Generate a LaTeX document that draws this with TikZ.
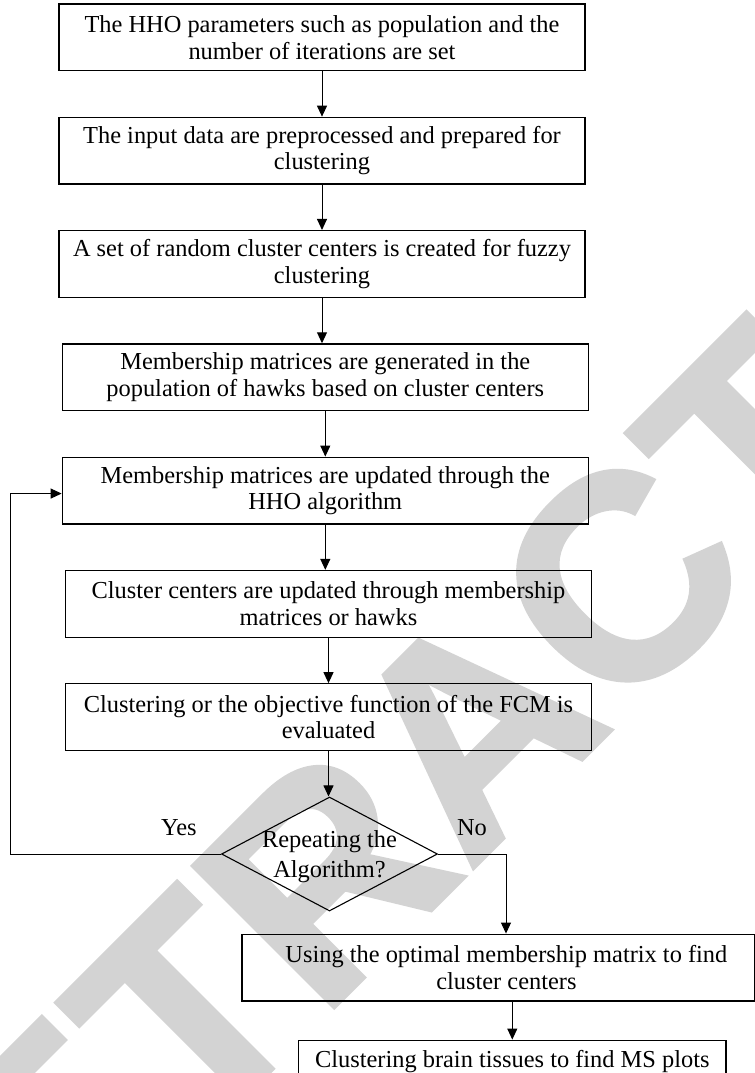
\documentclass[tikz,border=0pt]{standalone}
\usepackage{fontspec}
\setmainfont{Liberation Serif}
\newfontfamily\stampfont[FakeBold=1.5]{Liberation Sans Bold}
\usetikzlibrary{arrows.meta, shapes.geometric, positioning}
\definecolor{stampgray}{HTML}{D3D3D3}

\begin{document}
\begin{tikzpicture}[
  x=0.5pt, y=-0.5pt,
  node distance=22.65pt,
  font=\fontsize{12.2}{13.35}\selectfont,
  block/.style={rectangle, draw=black, line width=0.65pt,
                minimum width=263pt, minimum height=33.35pt,
                align=center, inner sep=2pt},
  decision/.style={diamond, draw=black, line width=0.55pt, aspect=1.9,
                minimum width=108pt, minimum height=57pt, inner sep=0pt},
  arrow/.style={-{Triangle[length=5.5pt,width=5pt]}, line width=0.5pt},
]
  \useasboundingbox (0,0) rectangle (755,1073);
  % watermark behind everything
  \node[rotate=45, text=stampgray, inner sep=0pt,
        font=\stampfont\fontsize{145}{145}\selectfont] (stamp) at (472,728) {RETRACTED};

  \node[block] (b1) at (322,37.35) {The HHO parameters such as population and the\\number of iterations are set};
  \node[block, below=of b1] (b2) {The input data are preprocessed and prepared for\\clustering};
  \node[block, below=of b2] (b3) {A set of random cluster centers is created for fuzzy\\clustering};
  \node[block, below=of b3, xshift=1.65pt] (b4) {Membership matrices are generated in the\\population of hawks based on cluster centers};
  \node[block, below=of b4] (b5) {Membership matrices are updated through the\\HHO algorithm};
  \node[block, below=of b5, xshift=1.6pt] (b6) {Cluster centers are updated through membership\\matrices or hawks};
  \node[block, below=of b6] (b7) {Clustering or the objective function of the FCM is\\evaluated};
  \node[decision, below=of b7, xshift=0.5pt,
        label={[align=center, yshift=-1.25pt]center:Repeating the\\[1.5pt]Algorithm?}] (dec) {};
  \node[block, below=11pt of dec, xshift=84.45pt, minimum width=256.5pt] (b8) {\hspace*{8pt}Using the optimal membership matrix to find\\\hspace*{8pt}cluster centers};
  \node[block, below=19pt of b8, xshift=6.95pt, minimum width=213.75pt, minimum height=20.85pt] (b9) {Clustering brain tissues to find MS plots};

  \draw[arrow] (b1.south) -- (b1.south |- b2.north);
  \draw[arrow] (b2.south) -- (b2.south |- b3.north);
  \draw[arrow] (b3.south) -- (b3.south |- b4.north);
  \draw[arrow] (b4.south) -- (b4.south |- b5.north);
  \draw[arrow] (b5.south) -- (b5.south |- b6.north);
  \draw[arrow] (b6.south) -- (b6.south |- b7.north);
  \draw[arrow] (b7.south) -- (b7.south |- dec.north);
  \draw[arrow] (dec.west) -- node[above, pos=0.2, yshift=5.5pt] {Yes} ++(-210,0) |- ([yshift=-1.5pt]b5.west);
  \draw[arrow] (dec.east) -| node[above, pos=0.25, yshift=5.5pt] {No} ([xshift=3.8pt]b8.north);
  \draw[arrow] (b8.south -| b9.north) -- (b9.north);
\end{tikzpicture}
\end{document}
